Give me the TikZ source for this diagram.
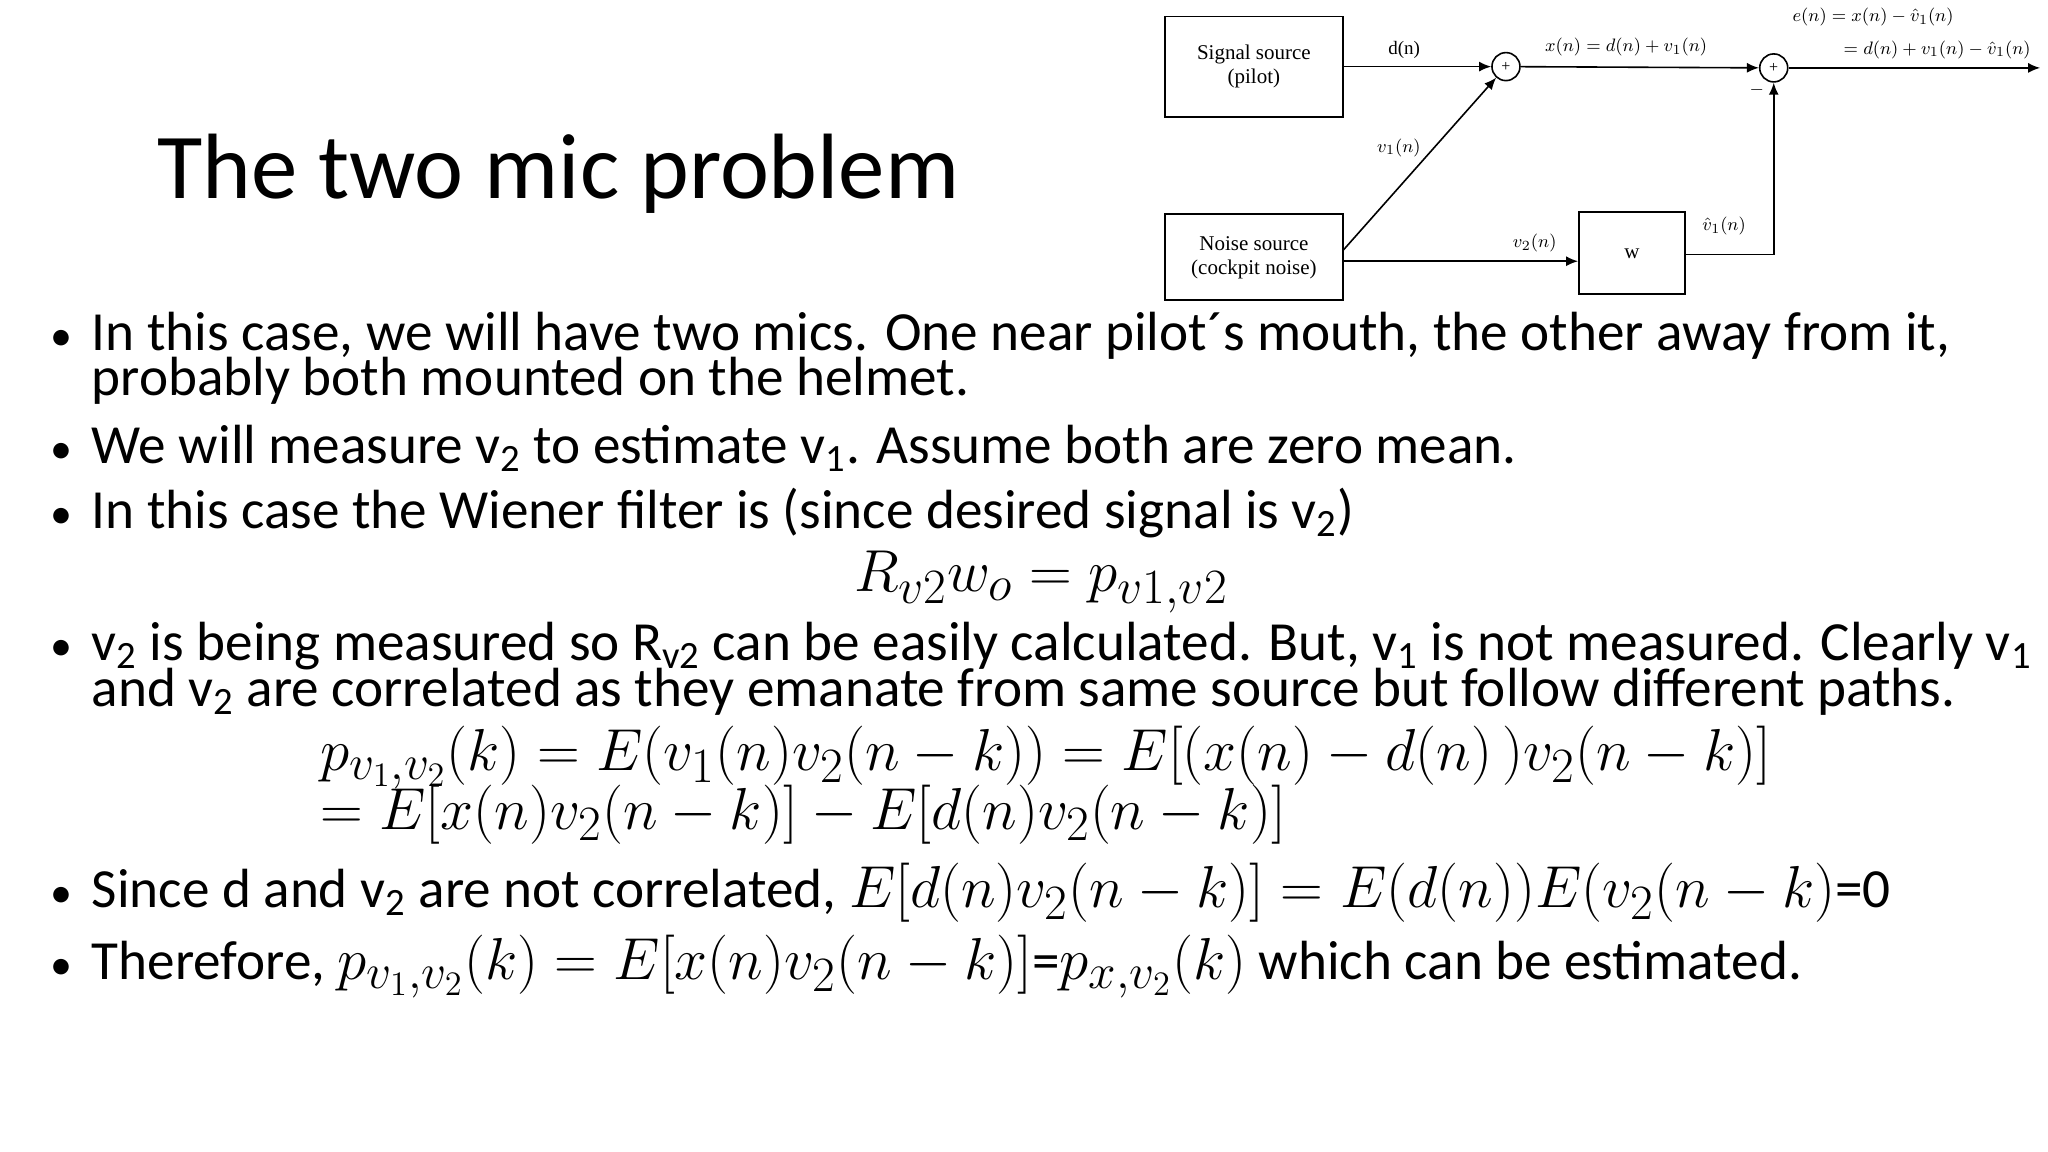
\documentclass[tikz,border=0pt]{standalone}
\usepackage{graphicx}
\usepackage{fontspec}
\setmainfont{Carlito}
\newfontfamily\diagfont{Liberation Serif}
\usetikzlibrary{arrows.meta}
\newcommand{\Mth}[1]{\scalebox{1.19}{$#1$}}
\tikzset{
  body/.style={anchor=base west,inner sep=0pt,font=\fontsize{27.6}{27.6}\selectfont},
  blk/.style={draw,line width=0.9pt,inner sep=0pt,font=\diagfont\fontsize{10.5}{12}\selectfont,align=center},
  sumc/.style={draw,circle,line width=0.8pt,minimum size=14pt,inner sep=0pt,font=\diagfont\fontsize{8}{8}\selectfont},
  lbl/.style={inner sep=0pt,font=\diagfont\fontsize{9.5}{10}\selectfont},
  sig/.style={line width=0.8pt,-{Latex[length=6pt,width=5pt]}},
  bul/.style={anchor=base,inner sep=0pt,font=\fontsize{22}{22}\selectfont}
}
\begin{document}
\begin{tikzpicture}[x=0.653pt,y=-0.653pt]
\useasboundingbox (0,0) rectangle (1568,882);
\fill[white] (0,0) rectangle (1568,882);
\node[anchor=base west,inner sep=0pt,font=\fontsize{46.4}{46.4}\selectfont] (title) at (120,152) {The two mic problem};
\node[blk,minimum width=89pt,minimum height=50pt] (sig) at (960,51) {Signal source\\(pilot)};
\node[blk,minimum width=89pt,minimum height=43pt] (noi) at (960,197) {Noise source\\(cockpit noise)};
\node[blk,minimum width=53pt,minimum height=41pt] (w) at (1249.5,194) {w};
\node[sumc] (s1) at (1153,51) {+};
\node[sumc] (s2) at (1358,52) {+};
\coordinate (out) at (1562,52);
\coordinate (nc) at (1028,192);
\draw[sig] (sig.east |- s1) -- (s1);
\draw[sig] (nc) -- (s1);
\draw[sig] (noi.east |- 0,200) -- (w.west |- 0,200);
\draw[sig] (s1) -- (s2);
\draw[sig] (s2) -- (out);
\draw[sig] (w.east |- 0,195) -| (s2.south);
\node[lbl] (ld) at (1075,38) {d(n)};
\node[lbl] (lx) at (1245,36) {$x(n)=d(n)+v_1(n)$};
\node[lbl] (lv1) at (1071,113) {$v_1(n)$};
\node[lbl] (lv2) at (1175,186) {$v_2(n)$};
\node[lbl] (lvh) at (1320,173) {$\hat v_1(n)$};
\node[lbl,anchor=east] (le1) at (1496,13) {$e(n)=x(n)-\hat v_1(n)$};
\node[lbl,anchor=east] (le2) at (1555,38) {$=d(n)+v_1(n)-\hat v_1(n)$};
\node[lbl] (lm) at (1345,69) {$-$};
\foreach \y in {268,355,405,506,695,750} \node[bul] at (47,\y) {•};
\node[body] (t1) at (70,268) {In this case, we will have two mics. One near pilot´s mouth, the other away from it,};
\node[body] (t1b) at (70,303) {probably both mounted on the helmet.};
\node[body] (t2) at (70,355) {We will measure v\textsubscript{2} to estimate v\textsubscript{1}. Assume both are zero mean.};
\node[body] (t3) at (70,405) {In this case the Wiener filter is (since desired signal is v\textsubscript{2})};
\node[body,anchor=base] (eq0) at (797,453) {\Mth{R_{v2}w_o=p_{v1,v2}}};
\node[body] (t4) at (70,506) {v\textsubscript{2} is being measured so R\textsubscript{v2} can be easily calculated. But, v\textsubscript{1} is not measured. Clearly v\textsubscript{1}};
\node[body] (t4b) at (70,541) {and v\textsubscript{2} are correlated as they emanate from same source but follow different paths.};
\node[body] (eq1) at (245,590) {\Mth{p_{v_1,v_2}(k)=E\big(v_1(n)v_2(n-k)\big)=E[(x(n)-d(n)\,)v_2(n-k)]}};
\node[body] (eq2) at (245,635) {\Mth{=E[x(n)v_2(n-k)]-E[d(n)v_2(n-k)]}};
\node[body] (t5) at (70,695) {Since d and v\textsubscript{2} are not correlated, \Mth{E[d(n)v_2(n-k)]=E\big(d(n)\big)E(v_2(n-k)}=0};
\node[body] (t6) at (70,750) {Therefore, \Mth{p_{v_1,v_2}(k)=E[x(n)v_2(n-k)]}=\Mth{p_{x,v_2}(k)} which can be estimated.};
\end{tikzpicture}
\end{document}
